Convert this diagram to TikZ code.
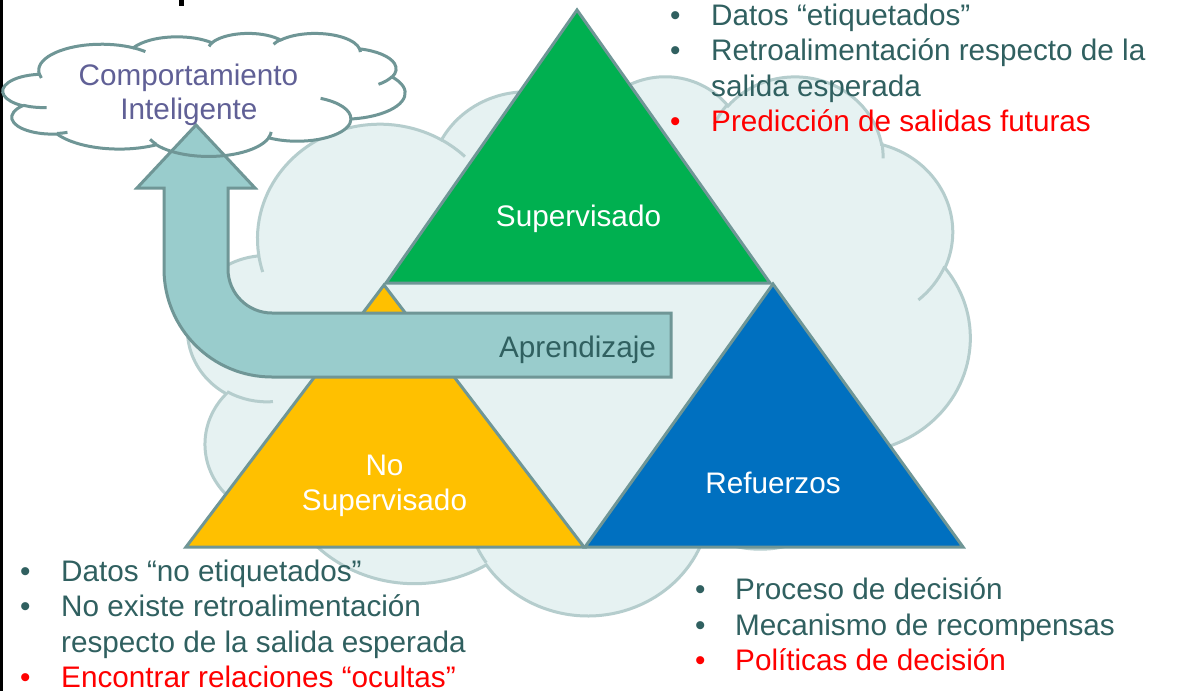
\documentclass[tikz,border=0pt]{standalone}
\usepackage{fontspec}
\setmainfont{Liberation Sans}
\definecolor{cloudfill}{RGB}{230,242,242}
\definecolor{cloudline}{RGB}{181,205,205}
\definecolor{edge}{RGB}{111,150,150}
\definecolor{triG}{RGB}{0,176,80}
\definecolor{triY}{RGB}{255,192,0}
\definecolor{triB}{RGB}{0,112,192}
\definecolor{arrowfill}{RGB}{153,204,204}
\definecolor{darktxt}{RGB}{48,96,96}
\definecolor{purptxt}{RGB}{96,96,150}
\definecolor{redtxt}{RGB}{255,0,0}

% ---- cloud shape (DrawingML preset "cloud") ----
\newcommand\cldSetFrame[4]{\def\cldx{#1}\def\cldy{#2}%
  \pgfmathsetmacro\cldsx{#3/43.2}\pgfmathsetmacro\cldsy{#4/43.2}}
\newcommand\cldMove[2]{%
  \pgfmathsetmacro\cldpx{\cldx+#1*\cldsx}%
  \pgfmathsetmacro\cldpy{0-(\cldy+#2*\cldsy)}%
  \pgfpathmoveto{\pgfpoint{\cldpx pt}{\cldpy pt}}}
\newcommand\cldArc[4]{%
  \pgfmathsetmacro\cldrx{#1*\cldsx}%
  \pgfmathsetmacro\cldry{#2*\cldsy}%
  \pgfmathsetmacro\cldta{atan2(#1*sin(#3),#2*cos(#3))}%
  \pgfmathsetmacro\cldtb{atan2(#1*sin(#3+#4),#2*cos(#3+#4))}%
  \pgfmathsetmacro\clddt{\cldtb-\cldta}%
  \pgfmathsetmacro\clddt{\clddt+360*round((#4-\clddt)/360)}%
  \pgfmathsetmacro\cldS{-1*(\cldta)}%
  \pgfmathsetmacro\cldE{-1*(\cldta+\clddt)}%
  \pgfpatharc{\cldS}{\cldE}{\cldrx pt and \cldry pt}}
\newcommand\cldOuter{%
  \cldMove{3.9}{14.37}%
  \cldArc{6.753}{9.19}{-190.4875}{123.7805}%
  \cldArc{5.333}{7.267}{-144.1024}{89.9452}%
  \cldArc{4.365}{5.945}{-145.8079}{99.7230}%
  \cldArc{4.857}{6.595}{-130.9861}{117.2417}%
  \cldArc{5.333}{7.273}{-78.7089}{109.0269}%
  \cldArc{6.775}{9.22}{-46.2673}{130.2690}%
  \cldArc{5.785}{7.867}{0.6250}{114.0333}%
  \cldArc{6.752}{9.215}{22.4516}{115.1726}%
  \cldArc{7.72}{10.543}{66.2426}{75.7110}%
  \cldArc{4.36}{5.918}{-274.9421}{146.7356}%
  \cldArc{4.345}{5.945}{-246.8285}{152.5189}%
  \pgfpathclose}
\newcommand\cldInner{%
  \cldMove{4.693}{26.177}\cldArc{4.345}{5.945}{86.7420}{26.4295}%
  \cldMove{6.928}{34.899}\cldArc{4.36}{5.918}{73.6105}{11.4475}%
  \cldMove{16.478}{39.09}\cldArc{6.752}{9.215}{137.6242}{14.0811}%
  \cldMove{28.827}{34.751}\cldArc{6.752}{9.215}{6.4533}{15.9984}%
  \cldMove{34.129}{22.954}\cldArc{5.785}{7.867}{-70.2924}{70.9174}%
  \cldMove{41.798}{15.354}\cldArc{5.333}{7.273}{30.3180}{27.7515}%
  \cldMove{38.324}{5.426}\cldArc{4.857}{6.595}{-13.7443}{14.8589}%
  \cldMove{29.078}{3.952}\cldArc{4.857}{6.595}{-149.1815}{18.1954}%
  \cldMove{22.141}{4.72}\cldArc{4.365}{5.945}{-163.4943}{17.6864}%
  \cldMove{14}{5.192}\cldArc{6.753}{9.19}{-66.7070}{12.3194}%
  \cldMove{4.127}{15.789}\cldArc{6.753}{9.19}{157.6544}{11.8582}}

\tikzset{
  tri/.style={draw=edge, line width=3pt, line join=miter},
  big/.style={font=\fontsize{29.7}{35.5}\selectfont, inner sep=0pt, anchor=base},
  bullet/.style={font=\fontsize{29.7}{35.5}\selectfont, inner sep=0pt, anchor=base west},
}

\begin{document}
\begin{tikzpicture}[x=1pt,y=1pt]
\useasboundingbox (0,-691) rectangle (1201,0);
\fill[white] (0,-691) rectangle (1201,0);
\fill[black] (0,-691) rectangle (3,0);
\fill[black] (179,-6) rectangle (184,0);

% big background cloud
\begin{pgfscope}
\pgfsetlinewidth{3pt}
\pgfsetstrokecolor{cloudline}\pgfsetfillcolor{cloudfill}
\cldSetFrame{188}{75}{782}{539}
\cldOuter
\pgfusepath{fill,stroke}
\cldInner
\pgfusepath{stroke}
\end{pgfscope}

% triangles
\coordinate (gA) at (577,-10);  \coordinate (gL) at (386,-283); \coordinate (gR) at (770,-283);
\coordinate (yA) at (384,-285); \coordinate (yL) at (186,-547); \coordinate (yR) at (584,-547);
\coordinate (bA) at (773,-284); \coordinate (bL) at (585,-547); \coordinate (bR) at (963,-547);
\draw[tri, fill=triG] (gA) -- (gL) -- (gR) -- cycle;
\draw[tri, fill=triY] (yA) -- (yL) -- (yR) -- cycle;
\draw[tri, fill=triB] (bA) -- (bL) -- (bR) -- cycle;

\node[big, text=white] (sup) at (578.5,-226) {Supervisado};
\node[big, text=white] (nosup1) at (384.5,-475.5) {No};
\node[big, text=white] (nosup2) at (384.5,-510.5) {Supervisado};
\node[big, text=white] (ref) at (773,-493) {Refuerzos};

% small cloud fill
\begin{pgfscope}
\pgfsetfillcolor{white}
\cldSetFrame{3}{33}{402}{123}
\cldOuter
\pgfusepath{fill}
\end{pgfscope}

% learning arrow
\draw[draw=edge, line width=3pt, fill=arrowfill, line join=miter]
  (671,-313) -- (272,-313) arc[start angle=270, end angle=180, radius=44]
  -- (228,-188) -- (255,-188) -- (196,-125) -- (137,-188) -- (164,-188)
  -- (164,-269) arc[start angle=180, end angle=270, radius=108]
  -- (671,-377) -- cycle;
\node[big, text=darktxt] (apr) at (577.5,-357) {Aprendizaje};

% small cloud outline
\begin{pgfscope}
\pgfsetlinewidth{3pt}
\pgfsetstrokecolor{edge}
\cldSetFrame{3}{33}{402}{123}
\cldOuter
\pgfusepath{stroke}
\cldInner
\pgfusepath{stroke}
\end{pgfscope}
\node[big, text=purptxt] (ci1) at (188.5,-85) {Comportamiento};
\node[big, text=purptxt] (ci2) at (189,-119) {Inteligente};

% bullet lists - supervised
\begin{scope}[text=darktxt]
\node[bullet] (s1b) at (670,-25) {•};
\node[bullet] (s1) at (711,-25) {Datos “etiquetados”};
\node[bullet] (s2b) at (670,-60.5) {•};
\node[bullet] (s2) at (711,-60.5) {Retroalimentación respecto de la};
\node[bullet] (s3) at (711,-96) {salida esperada};
\end{scope}
\node[bullet, text=redtxt] (s4b) at (670,-131.5) {•};
\node[bullet, text=redtxt] (s4) at (711,-131.5) {Predicción de salidas futuras};

% unsupervised
\begin{scope}[text=darktxt]
\node[bullet] (u1b) at (20,-581) {•};
\node[bullet] (u1) at (61,-581) {Datos “no etiquetados”};
\node[bullet] (u2b) at (20,-616.5) {•};
\node[bullet] (u2) at (61,-616.5) {No existe retroalimentación};
\node[bullet] (u3) at (61,-652) {respecto de la salida esperada};
\end{scope}
\node[bullet, text=redtxt] (u4b) at (20,-687.5) {•};
\node[bullet, text=redtxt] (u4) at (61,-687.5) {Encontrar relaciones “ocultas”};

% reinforcement
\begin{scope}[text=darktxt]
\node[bullet] (r1b) at (695,-599) {•};
\node[bullet] (r1) at (735,-599) {Proceso de decisión};
\node[bullet] (r2b) at (695,-635) {•};
\node[bullet] (r2) at (735,-635) {Mecanismo de recompensas};
\end{scope}
\node[bullet, text=redtxt] (r3b) at (695,-670.5) {•};
\node[bullet, text=redtxt] (r3) at (735,-670.5) {Políticas de decisión};
\end{tikzpicture}
\end{document}
